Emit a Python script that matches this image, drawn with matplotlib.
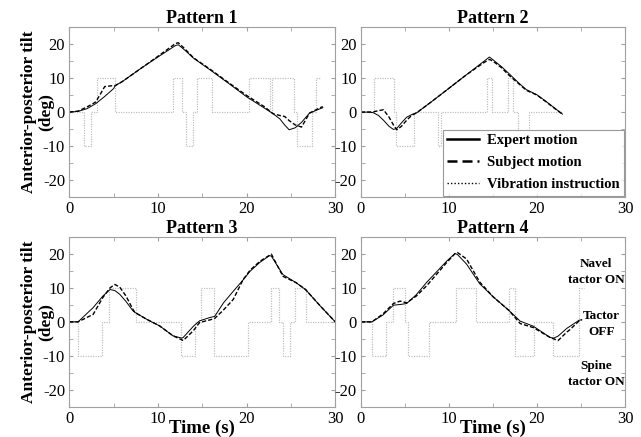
import matplotlib
matplotlib.use("Agg")
import matplotlib.pyplot as plt
from matplotlib.lines import Line2D
from matplotlib.ticker import MultipleLocator

plt.rcParams['font.family'] = ['Liberation Serif', 'DejaVu Serif']
plt.rcParams['axes.unicode_minus'] = False

# ---------------- data ----------------
titles = ["Pattern 1", "Pattern 2", "Pattern 3", "Pattern 4"]

p1_t = [0, 1, 2, 3, 4, 5, 5.2, 6, 8, 10, 12, 12.3, 13, 14, 16, 18, 20, 22, 23,
        23.75, 24.3, 24.8, 25.5, 26.2, 27.1, 28.3, 28.6]
p1_expert = [0, 0.2, 1.0, 2.5, 4.6, 6.9, 7.8, 9.0, 12.7, 16.2, 19.6, 19.8, 18.3, 15.9, 12.2,
             8.4, 4.5, 1.2, -0.5, -2.0, -3.8, -5.2, -4.6, -3.0, -0.3, 1.0, 1.3]
p1_subject = [0, 0.3, 1.5, 3.0, 7.5, 7.8, 7.8, 9.0, 12.7, 16.4, 20.2, 20.4, 18.7, 16.0, 12.4,
              8.6, 4.9, 1.6, -0.5, -1.0, -1.3, -2.5, -3.8, -4.4, -0.3, 1.3, 1.6]
p1_vib_t = [0, 1.65, 2.45, 3.1, 5.15, 11.65, 12.7, 13.2, 14.0, 14.45, 16.1, 20.3, 22.6,
            22.9, 25.4, 25.7, 27.4, 27.8, 28.3]
p1_vib = [0, -10, 0, 10, 0, 10, 0, -10, 0, 10, 0, 10, 0, 10, 0, -10, 0, 10, 10]

p2_t = [0, 1, 1.43, 2, 2.57, 3.2, 3.7, 4.08, 4.6, 5.2, 5.8, 6.35, 6.7, 8, 10, 12, 14,
        14.6, 15, 16, 16.75, 18, 18.8, 20, 21, 22, 22.9]
p2_expert = [0, 0, -0.2, -1.0, -2.4, -4.2, -5.1, -4.8, -3.2, -1.5, -0.7, -0.2, 0.5, 3.0,
             7.0, 11.0, 15.0, 16.2, 15.4, 13.3, 11.5, 8.4, 6.6, 5.1, 3.2, 1.2, -0.6]
p2_subject = [0, 0, 0.1, 0.4, 0.7, -1.5, -3.8, -5.2, -4.2, -2.4, -0.9, -0.2, 0.5, 3.0,
              7.0, 11.0, 14.6, 15.5, 15.0, 13.0, 11.0, 8.2, 6.4, 5.0, 3.1, 1.1, -0.6]
p2_vib_t = [0, 1.44, 3.8, 4.0, 6.05, 8.8, 9.05, 14.3, 14.95, 16.75, 17.3, 17.9, 19.1, 22.9]
p2_vib = [0, 10, 0, -10, 0, -10, 0, 10, 0, 10, 0, -10, 0, 0]

p3_t = [0, 1, 2.7, 3.8, 4.6, 5.15, 5.7, 6.4, 7.2, 7.4, 8.7, 10.2, 11.7, 12.7, 12.85, 14,
        14.7, 15.9, 16.4, 17.4, 18.5, 19.6, 20.4, 21.5, 22.6, 22.8, 24.1, 25.6, 26.65,
        28.3, 30]
p3_expert = [0, 0, 4.2, 7.6, 9.5, 9.2, 8.1, 6.0, 3.2, 2.8, 0.8, -1.2, -4.1, -4.8, -4.6,
             -1.3, 0.3, 1.3, 1.6, 5.6, 9.0, 12.3, 14.9, 17.5, 19.5, 19.3, 13.9, 11.5, 9.5,
             4.7, 0]
p3_subject = [0, 0, 2.2, 7.2, 10.0, 11.0, 10.2, 7.6, 3.6, 2.8, 0.8, -1.2, -4.1, -5.3, -5.5,
              -2.6, -0.2, 0.6, 1.0, 3.5, 6.6, 12.4, 15.2, 17.8, 19.6, 19.9, 13.4, 11.5, 9.5,
              4.7, 0]
p3_vib_t = [0, 1.0, 3.7, 4.5, 7.5, 12.55, 14.2, 14.9, 16.3, 20.2, 22.7, 23.7, 24.1, 24.9,
            25.5, 26.65, 30]
p3_vib = [0, -10, 0, 10, 0, -10, 0, 10, -10, 0, 10, 0, -10, 0, 10, 0, 0]

p4_t = [0, 1.25, 2.5, 3.7, 4.46, 5.2, 6.3, 7.5, 9.8, 10.7, 10.97, 12, 13.5, 15.05, 16.8,
        18.1, 19.6, 21.5, 21.9, 22.4, 23.4, 23.7, 24.8, 25.1]
p4_expert = [0, 0, 2.0, 4.9, 5.1, 5.4, 8.0, 11.7, 18.0, 20.1, 19.8, 17.0, 11.2, 7.3, 3.4,
             0.2, -1.3, -4.6, -4.8, -4.2, -1.9, -1.4, 0.5, 0.6]
p4_subject = [0, 0, 2.3, 5.4, 6.1, 5.6, 7.6, 10.7, 17.6, 20.1, 20.4, 18.5, 11.7, 7.3, 3.4,
              -0.5, -1.7, -4.6, -5.0, -5.5, -3.0, -2.4, 0.3, 0.6]
p4_vib_t = [0, 1.25, 2.85, 3.7, 5.0, 5.3, 7.78, 10.8, 13.05, 16.8, 17.55, 19.7, 21.85,
            24.75, 25.4]
p4_vib = [0, -10, 0, 10, 0, -10, 0, 10, 0, 10, -10, 0, -10, 10, 10]

legend_labels = ["Expert motion", "Subject motion", "Vibration instruction"]
side_labels = ["Navel\ntactor ON", "Tactor\nOFF", "Spine\ntactor ON"]
side_label_y = [14.8, -0.6, -15.4]
side_label_x = [26.7, 27.3, 26.7]

panels = [
    (p1_t, p1_expert, p1_subject, p1_vib_t, p1_vib),
    (p2_t, p2_expert, p2_subject, p2_vib_t, p2_vib),
    (p3_t, p3_expert, p3_subject, p3_vib_t, p3_vib),
    (p4_t, p4_expert, p4_subject, p4_vib_t, p4_vib),
]

# ---------------- figure ----------------
fig = plt.figure(figsize=(6.41, 4.37), dpi=100)
positions = [
    [0.108, 0.549, 0.415, 0.389],
    [0.563, 0.549, 0.412, 0.389],
    [0.108, 0.069, 0.415, 0.389],
    [0.563, 0.069, 0.412, 0.389],
]
spine_col = "#a0a0a0"
axes = []
for i, (pos, (t, ex, su, vt, vv)) in enumerate(zip(positions, panels)):
    ax = fig.add_axes(pos)
    axes.append(ax)
    ax.plot(vt, vv, drawstyle="steps-post", color="#c0c0c0", lw=0.9, ls=(0, (1, 1)))
    ax.plot(t, ex, color="black", lw=0.7)
    ax.plot(t, su, color="black", lw=1.0, ls=(0, (3, 1.5)))
    ax.set_xlim(0, 30)
    ax.set_ylim(-25, 25)
    ax.xaxis.set_major_locator(MultipleLocator(10))
    ax.xaxis.set_minor_locator(MultipleLocator(5))
    ax.yaxis.set_major_locator(MultipleLocator(10))
    ax.yaxis.set_minor_locator(MultipleLocator(5))
    ax.tick_params(which="both", direction="in", top=True, right=True, length=3,
                   color=spine_col, labelsize=12, pad=3)
    for s in ax.spines.values():
        s.set_color(spine_col)
        s.set_linewidth(0.8)
    ax.set_title(titles[i], fontsize=13, fontweight="bold", pad=3)
    if i in (0, 2):
        ax.text(-0.150, 0.5, "Anterior-posterior tilt", rotation=90, ha="center",
                va="center", fontsize=12.5, fontweight="bold", transform=ax.transAxes)
        ax.text(-0.085, 0.5, "(deg)", rotation=90, ha="center",
                va="center", fontsize=12.5, fontweight="bold", transform=ax.transAxes)
    if i in (2, 3):
        ax.set_xlabel("Time (s)", fontsize=13.5, fontweight="bold", labelpad=-5)

handles = [
    Line2D([], [], color="black", lw=1.8),
    Line2D([], [], color="black", lw=1.8, ls=(0, (4, 2))),
    Line2D([], [], color="black", lw=1.0, ls=(0, (1, 1.5))),
]
leg = axes[1].legend(handles, legend_labels, loc="lower right", frameon=True,
                     fancybox=False, prop={"weight": "bold", "size": 10.5},
                     borderaxespad=0.1, handlelength=2.2, handletextpad=0.5,
                     labelspacing=0.6, borderpad=0.3)
leg.get_frame().set_edgecolor("#808080")
leg.get_frame().set_linewidth(0.8)

for txt, x, y in zip(side_labels, side_label_x, side_label_y):
    axes[3].text(x, y, txt, ha="center", va="center", fontsize=9.5, fontweight="bold",
                 linespacing=1.45)

fig.savefig("out.png", dpi=100)
